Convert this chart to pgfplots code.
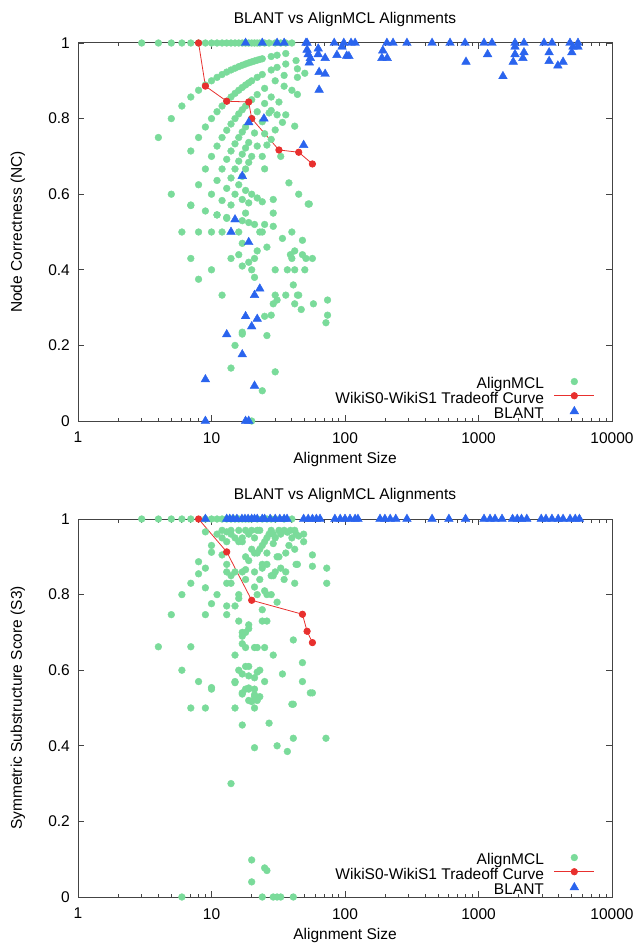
\documentclass[border=0pt]{standalone}
\usepackage{pgfplots}
\pgfplotsset{compat=1.18}
\usepackage{fontspec}
\setmainfont{Liberation Sans}
\definecolor{mcl}{HTML}{7ADB9A}
\definecolor{blant}{HTML}{2A64EE}
\definecolor{trd}{HTML}{E8302E}
\definecolor{axc}{HTML}{444444}
\pgfplotsset{
  every axis/.append style={
    scale only axis, width=534pt, height=378pt,
    xmin=1, xmax=10000, ymin=0, ymax=1,
    xtick={1,10,100,1000,10000}, xticklabels={1,10,100,1000,10000},
    ytick={0,0.2,0.4,0.6,0.8,1}, yticklabels={0,0.2,0.4,0.6,0.8,1},
    minor y tick num=0,
    tick align=inside, major tick length=6pt, minor tick length=3.5pt,
    axis line style={axc, line width=1pt},
    every tick/.style={axc, line width=0.8pt},
    font=\fontsize{15.5}{17}\selectfont,
    /pgf/number format/assume math mode=true,
    clip=false,
    xticklabel style={anchor=north, inner sep=0pt, yshift=-11pt},
    yticklabel style={anchor=east, inner sep=0pt, xshift=-8pt},
    title style={at={(axis description cs:0.5,1.0476)}, anchor=center, inner sep=0pt},
    xlabel style={at={(axis description cs:0.5,-0.101)}, anchor=center, inner sep=0pt},
    ylabel style={at={(axis description cs:-0.1124,0.5)}, anchor=center, inner sep=0pt},
    legend plot pos=right, legend cell align=right,
    legend style={at={(axis description cs:0.968,-0.003)}, anchor=south east, draw=none, fill=none,
      row sep=0pt, column sep=10pt, font=\fontsize{15.5}{17}\selectfont, inner sep=0pt,
      nodes={inner sep=0pt, text height=11pt, text depth=3.2pt}},
  },
  legend image code/.code={\draw[mark repeat=2,mark phase=2,#1] plot coordinates {(0pt,3.5pt) (20pt,3.5pt) (40pt,3.5pt)};},
  mclp/.style={only marks, mark=*, mark size=3.4pt, mark options={draw=mcl, fill=mcl}},
  trdp/.style={trd, line width=0.8pt, mark=*, mark size=3.2pt, mark options={draw=trd, fill=trd}},
  blp/.style={only marks, mark=triangle*, mark size=5pt, mark options={draw=blant, fill=blant}},
}
\begin{document}
\begin{tikzpicture}
\useasboundingbox (0,0) rectangle (636pt,-947pt);
% ---------------- top plot ----------------
\begin{axis}[xmode=log, at={(78pt,-421pt)}, anchor=south west,
  title={BLANT vs AlignMCL Alignments}, xlabel={Alignment Size}, ylabel={Node Correctness (NC)}]
\addplot[mclp] coordinates {
(3,1)(4,1)(5,1)(6,1)(7,1)(8,1)(9,1)(10,1)(11,1)(12,1)(13,1)(14,1)(15,1)(16,1)(17,1)(18,1)(19,1)(20,1)(21,1)(22,1)(23,1)(25,1)(27,1)(30,1)(33,1)(36,1)(40,1)
(4,0.75)(5,0.8)(6,0.8333)(7,0.8571)(8,0.875)(9,0.8889)(10,0.9)(11,0.9091)(12,0.9167)(13,0.9231)(14,0.9286)(15,0.9333)(16,0.9375)(17,0.9412)(18,0.9444)(19,0.9474)(20,0.95)(21,0.9524)(22,0.9545)(23,0.9565)(24,0.9583)(28,0.9643)(31,0.9677)(36,0.9722)
(5,0.6)(7,0.7143)(8,0.75)(9,0.7778)(10,0.8)(11,0.8182)(12,0.8333)(13,0.8462)(14,0.8571)(15,0.8667)(16,0.875)(17,0.8824)(18,0.8889)(19,0.8947)(20,0.9)(22,0.9091)(24,0.9167)(28,0.9286)(31,0.9355)(36,0.9444)(43,0.9535)
(7,0.5714)(8,0.625)(9,0.6667)(10,0.7)(11,0.7273)(12,0.75)(13,0.7692)(14,0.7857)(15,0.8)(16,0.8125)(17,0.8235)(18,0.8333)(20,0.85)(22,0.8636)(25,0.88)(30,0.9)(35,0.9143)(44,0.9318)
(8,0.5)(9,0.5556)(10,0.6)(11,0.6364)(12,0.6667)(13,0.6923)(14,0.7143)(15,0.7333)(16,0.75)(17,0.7647)(18,0.7778)(20,0.8)(22,0.8182)(25,0.84)(28,0.8571)(35,0.8857)(44,0.9091)(50,0.92)
(10,0.5)(11,0.5455)(12,0.5833)(13,0.6154)(14,0.6429)(15,0.6667)(16,0.6875)(17,0.7059)(18,0.7222)(19,0.7368)(21,0.7619)(24,0.7917)(28,0.8214)(32,0.8438)
(12,0.5)(13,0.5385)(14,0.5714)(15,0.6)(16,0.625)(17,0.6471)(18,0.6667)(19,0.6842)(20,0.7)(22,0.7273)(25,0.76)
(26,0.73)(24,0.70)(28,0.745)(25,0.667)(38,0.63)(29,0.586)(53,0.574)(29,0.55)(27,0.815)(31,0.81)(36,0.81)(34,0.79)(44,0.864)(40,0.875)(42,0.78)(30,0.77)(33,0.70)(45,0.60)
(7,0.57)(11,0.545)(17,0.53)(19,0.525)(21,0.52)(18,0.55)(17,0.586)(19,0.577)(18,0.61)(20,0.6)(22,0.59)(24,0.58)(29,0.515)(25,0.52)(23,0.5)(24,0.5)(34,0.483)(40,0.5)(48,0.478)(54,0.574)
(26,0.46)(22,0.45)(17,0.47)(16,0.44)(14,0.43)(19,0.42)(21,0.43)(17,0.41)(20,0.4)(21,0.38)(10,0.4)(8,0.375)(12,0.333)(30,0.4)(37,0.4)(42,0.4)(50,0.4)(42,0.45)(39,0.44)(40,0.43)(48,0.44)(51,0.43)(57,0.43)
(41,0.36)(30,0.333)(31,0.32)(36,0.333)(44,0.333)(45,0.333)(42,0.31)(47,0.295)(58,0.31)(74,0.32)(74,0.28)(72,0.26)(29,0.31)(28,0.28)(25,0.277)(26,0.226)(17,0.23)(17,0.235)(15,0.2)(14,0.14)(30,0.13)(24,0.08)(20,0)
(6,0.5)(7,0.43)(16,0.5)(13,0.536)
};
\addlegendentry{AlignMCL}
\addplot[trdp] coordinates {(8,1)(9,0.886)(13,0.846)(19,0.844)(20,0.80)(32,0.717)(45,0.711)(57,0.68)};
\addlegendentry{WikiS0-WikiS1 Tradeoff Curve}
\addplot[blp] coordinates {
(18,1)(24,1)(31,1)(35,1)(51,1)(52,1)(83,1)(98,1)(111,1)(119,1)(206,1)(229,1)(291,1)(449,1)(612,1)(793,1)(1100,1)(1262,1)(1877,1)(2191,1)(3096,1)(3553,1)(4845,1)(5561,1)
(15,0.533)(14,0.5)(19,0.473)(23,0.35)(21,0.333)(18,0.277)(22,0.27)(20,0.25)(13,0.229)(17,0.176)(9,0.11)(21,0.093)(9,0)(18,0)(19,0)(24.7,0.8)(19,0.79)(49,0.73)(17,0.648)
(64,0.923)(71,0.918)(64,0.876)(54,0.948)(52,0.982)(63,0.985)(53,0.97)(63,0.97)(55,0.96)(71,0.96)(87,0.968)(107,0.965)(95,0.99)(103,0.966)
(192,0.98)(189,0.96)(207,0.96)(806,0.95)(1170,0.97)(1524,0.912)(1877,0.99)(1877,0.97)(1820,0.95)(2191,0.975)(2150,0.96)(3380,0.975)(3380,0.952)(3930,0.94)(4300,0.95)(5000,0.975)(5560,0.99)(5100,0.99)
};
\addlegendentry{BLANT}
\end{axis}
% ---------------- bottom plot ----------------
\begin{axis}[xmode=log, at={(78pt,-897pt)}, anchor=south west,
  title={BLANT vs AlignMCL Alignments}, xlabel={Alignment Size}, ylabel={Symmetric Substructure Score (S3)}]
\addplot[mclp] coordinates {
(3,1)(4,1)(5,1)(6,1)(7,1)(9,1)(10,1)(11,1)(12,1)(13,1)(14,1)(15,1)(16,1)(17,1)(18,1)(19,1)(20,1)(22,1)(24,1)(26,1)(28,1)(30,1)(35,1)(40,1)
(9,0.966)(10,0.93)(10,0.912)(8,0.887)(9,0.87)(8,0.855)(7,0.83)(9,0.818)(6,0.8)(11,0.8)(5,0.747)(9,0.747)(10,0.776)(4,0.662)(7,0.662)(6,0.6)(8,0.57)(10,0.554)
(13,0.747)(13,0.77)(15,0.77)(16,0.8)(13,0.83)(14,0.83)(13,0.86)(14,0.85)(15,0.86)(13,0.88)(17,0.86)(12,0.905)(12,0.95)(13,0.966)(14,0.97)(16,0.97)(17,0.94)(17,0.95)(21,0.95)(21,0.91)(18,0.90)(21,0.86)(18,0.84)(22,0.8)
(16,0.73)(17,0.70)(17,0.69)(17,0.67)(21,0.66)(18,0.66)(15,0.64)(16,0.6)(18,0.61)(22,0.595)(17,0.59)(19,0.585)(15,0.57)(18,0.55)(17,0.54)(21,0.53)(19,0.52)
(13,0.94)(16,0.79)(18,0.866)(18,0.70)(19,0.89)(19,0.72)(22,0.91)(22,0.97)(23,0.97)(24,0.88)(24,0.87)(25,0.81)(26,0.8)(24,0.76)(24,0.73)(26,0.73)(28,0.85)(29,0.85)(26,0.91)(28,0.97)(29,0.96)(29,0.935)(31,0.9)(32,0.9)(33,0.96)(35,0.97)(37,0.965)(39,0.97)(42,0.97)(43,0.96)(36,0.91)(42,0.92)(43,0.88)(44,0.88)(49,0.96)(49,0.94)(57,0.905)(57,0.875)(73,0.87)(73,0.83)(42,0.83)(36,0.86)
(41,0.68)(29,0.64)(25,0.66)(22,0.66)(19,0.71)(19,0.61)(21,0.58)(23,0.6)(25,0.57)(19,0.55)(21,0.55)(48,0.62)(34,0.59)(48,0.57)(57,0.54)(21,0.535)(23,0.53)(22,0.52)(41,0.51)
(15,0.567)(7,0.5)(9,0.5)(15,0.5)(21,0.5)(17,0.537)(19,0.553)(20,0.517)(17,0.455)(21,0.395)(14,0.30)(20,0.098)(20,0.04)(6,0)(10,0.55)(27,0.46)(40,0.51)(55,0.54)(31,0.40)(37,0.385)(41,0.42)(72,0.42)(25,0.077)(26,0.07)(24,0)(29,0)(31,0)(33,0)(41,0)
(11,0.96)(12,0.97)(14,0.96)(15,0.95)(16,0.94)(18,0.97)(19,0.96)(20,0.97)(24,0.93)(25,0.94)(26,0.95)(27,0.96)(30,0.95)(32,0.97)(38,0.93)(40,0.95)(45,0.955)
(20,0.92)(23,0.92)(26,0.88)(30,0.86)(33,0.87)(35,0.84)(28,0.8)(31,0.78)(21,0.82)(23,0.84)
};
\addlegendentry{AlignMCL}
\addplot[trdp] coordinates {(8,1)(13,0.913)(20,0.785)(48,0.748)(52,0.703)(57,0.673)};
\addlegendentry{WikiS0-WikiS1 Tradeoff Curve}
\addplot[blp] coordinates {
(9,1)(13,1)(13.7,1)(14.5,1)(15.5,1)(16.9,1)(17.8,1)(18.8,1)(20,1)(21,1)(22,1)(24,1)(25,1)(27.5,1)(30,1)(32.5,1)(35,1)(36.8,1)
(49,1)(53,1)(57,1)(61,1)(65,1)(84,1)(92,1)(100,1)(109,1)(119,1)(125,1)(183,1)(199,1)(218,1)(240,1)(291,1)(449,1)(600,1)(800,1)
(1100,1)(1220,1)(1330,1)(1500,1)(1800,1)(1950,1)(2100,1)(2300,1)(2950,1)(3200,1)(3550,1)(3950,1)(4300,1)(4850,1)(5300,1)(5700,1)
};
\addlegendentry{BLANT}
\end{axis}
\end{tikzpicture}
\end{document}
